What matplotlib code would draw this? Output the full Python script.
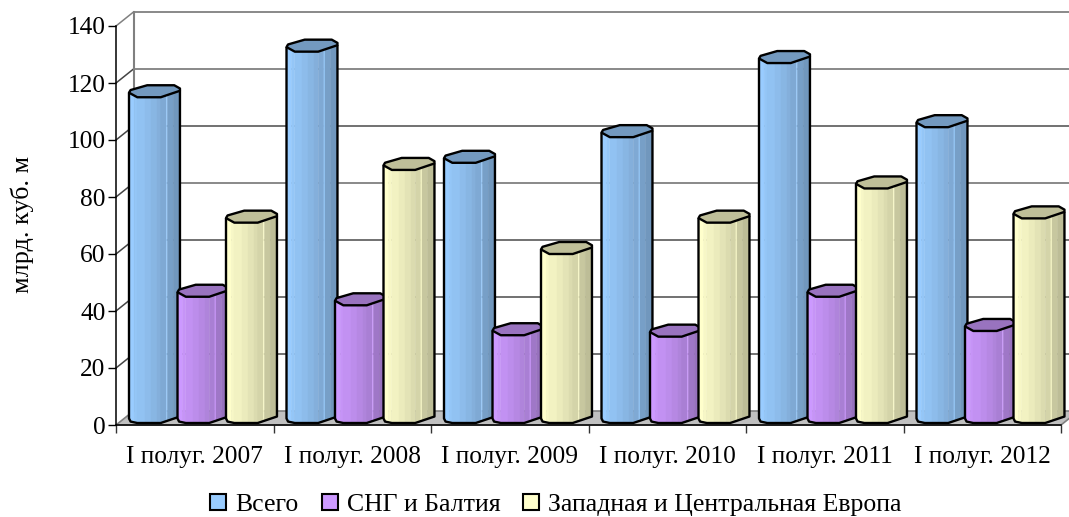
import numpy as np
import matplotlib
matplotlib.use('Agg')
import matplotlib.pyplot as plt
from matplotlib.patches import Polygon, Patch

categories = ['I полуг. 2007', 'I полуг. 2008', 'I полуг. 2009', 'I полуг. 2010', 'I полуг. 2011', 'I полуг. 2012']
total = [115, 131, 92, 101, 127, 104.5]
cis = [45, 42, 31.5, 31, 45, 33]
europe = [71, 89.5, 60, 71, 83, 72.5]
y_ticks = [0, 20, 40, 60, 80, 100, 120, 140]

plt.rcParams['font.family'] = ['Liberation Serif', 'DejaVu Serif']
W_PX, H_PX = 1069, 517
L, R, T, B = 116, 1061, 26, 425
fig = plt.figure(figsize=(W_PX / 100, H_PX / 100), dpi=100, facecolor='white')
ax = fig.add_axes([L / W_PX, 1 - B / H_PX, (R - L) / W_PX, (B - T) / H_PX])
ax.set_xlim(0, 6)
ax.set_ylim(0, 140)
ux = (R - L) / 6
uy = (B - T) / 140
dx, dy = 17.5 / ux, 14 / uy

# walls, floor and gridlines
ax.add_patch(Polygon([(0, 0), (dx, dy), (6 + dx, dy), (6, 0)], closed=True, fc='#C0C0C0', ec='#808080', lw=1.2, clip_on=False, zorder=1))
for v in y_ticks[1:]:
    c = '#808080' if v == 140 else '#444444'
    ax.plot([dx, 6 + dx], [v + dy, v + dy], color='#808080' if v >= 120 or v == 80 else '#666666', lw=1.3, clip_on=False, zorder=1)
    ax.plot([0, dx], [v, v + dy], color=c, lw=1.1, clip_on=False, zorder=1)
ax.plot([dx, dx], [dy, 140 + dy], color='#808080', lw=1.5, clip_on=False, zorder=1)

# cylinder geometry
BW = 52 / ux
BH = 12 / uy
STEP = 48.5 / ux
OFF = 13 / ux
BASE = 0.7
ring = [(0, .38), (.03, .6), (.35, 1), (.87, 1), (.98, .73), (.98, .54), (.61, 0), (.16, 0)]
front_a = [0, .03, .16, .61, .98]
front_b = [.38, .12, 0, 0, .54]
edges = np.array([0, .10, .16, .30, .42, .53, .61, .72, .74, .85, .98])
shades = [1.0, .97, .95, .92, .89, .86, .83, 1.0, .78, .74]

def shade(hexcol, f):
    rgb = np.array(matplotlib.colors.to_rgb(hexcol))
    return tuple(np.clip(rgb * f, 0, 1))

def cylinder(x0, v, col, z):
    fb = lambda a: np.interp(a, front_a, front_b) * BH
    for i in range(len(edges) - 1):
        a1, a2 = edges[i], edges[i + 1]
        c = shade(col, shades[i])
        ax.add_patch(Polygon([(x0 + a1 * BW, BASE + fb(a1)), (x0 + a2 * BW, BASE + fb(a2)),
                              (x0 + a2 * BW, v + fb(a2) + .3), (x0 + a1 * BW, v + fb(a1) + .3)],
                             closed=True, fc=c, ec=c, lw=.3, clip_on=False, zorder=z))
    outline = [(x0, v + fb(0))] + [(x0 + a * BW, BASE + fb(a)) for a in front_a] + [(x0 + .98 * BW, v + fb(.98))]
    ax.add_patch(Polygon(outline, closed=False, fill=False, ec='black', lw=1.7, clip_on=False, zorder=z + .1, joinstyle='round'))
    ax.add_patch(Polygon([(x0 + a * BW, v + b * BH) for a, b in ring], closed=True, fc=shade(col, .75), ec='black',
                         lw=1.7, clip_on=False, zorder=z + .2, joinstyle='round'))

series = [(total, '#99CCFF'), (cis, '#CC99FF'), (europe, '#FFFFCC')]
for c in range(len(categories)):
    for s, (vals, col) in enumerate(series):
        cylinder(c + OFF + s * STEP, vals[c], col, 3 + c + s * .3)

# axes
for s in ('top', 'right'):
    ax.spines[s].set_visible(False)
for s in ('left', 'bottom'):
    ax.spines[s].set_linewidth(1.1)
    ax.spines[s].set_zorder(2)
ax.set_yticks(y_ticks)
ax.set_xticks(range(7))
ax.set_xticklabels([])
ax.set_xticks(np.arange(6) + .5, minor=True)
ax.set_xticklabels(categories, minor=True)
ax.tick_params(axis='x', which='major', length=6, width=1, color='#333333')
ax.tick_params(axis='x', which='minor', length=0, pad=15, labelsize=18.3)
ax.tick_params(axis='y', length=6, width=1, pad=1.5, labelsize=18.3)
fig.text(22 / W_PX, 1 - 224 / H_PX, 'млрд. куб. м', rotation=90, ha='center', va='center', fontsize=18.8)

handles = [Patch(fc=col, ec='black', lw=1.5) for _, col in series]
fig.legend(handles, ['Всего', 'СНГ и Балтия', 'Западная и Центральная Европа'], loc='center', ncol=3,
           bbox_to_anchor=(556 / W_PX, 1 - 505 / H_PX), frameon=False, fontsize=18.5,
           handlelength=.62, handleheight=.55, handletextpad=.35, columnspacing=.9, borderpad=0, borderaxespad=0)
fig.savefig('out.png', dpi=100)
